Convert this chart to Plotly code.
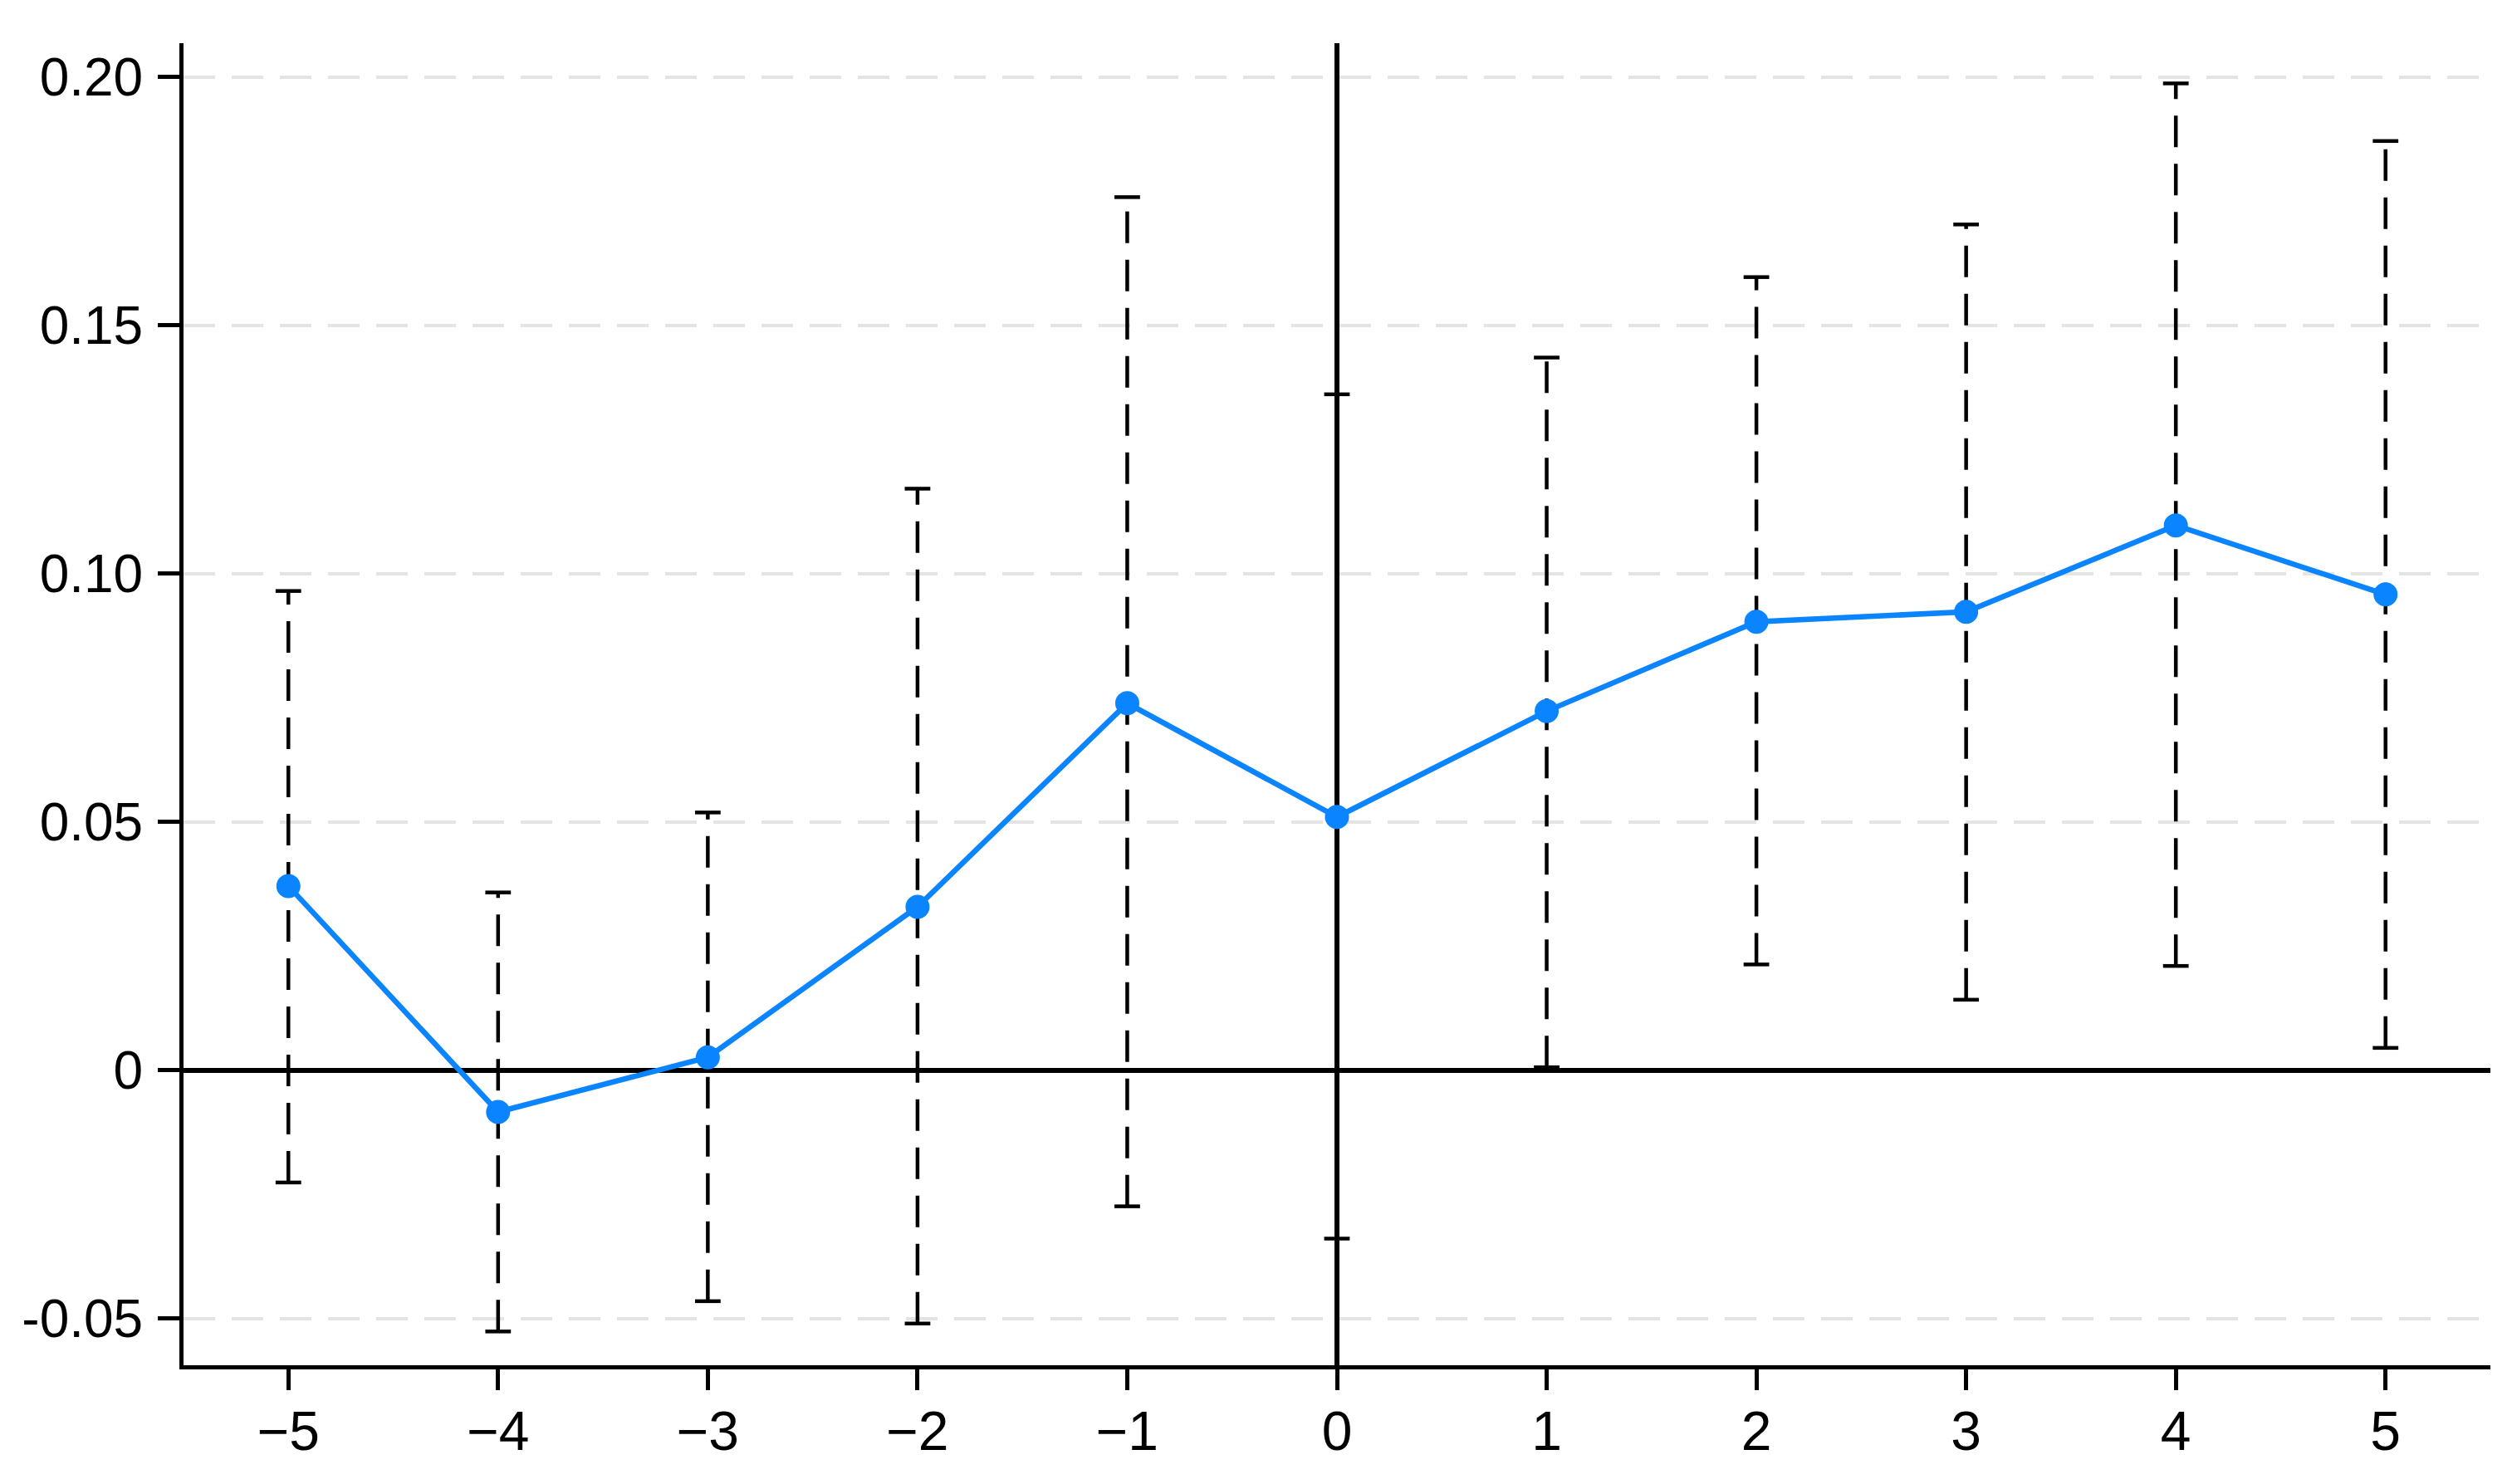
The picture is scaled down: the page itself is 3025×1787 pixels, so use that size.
import plotly.graph_objects as go

# Data
periods = [-5, -4, -3, -2, -1, 0, 1, 2, 3, 4, 5]
coef = [0.0371, -0.0084, 0.0026, 0.0329, 0.0739, 0.0510, 0.0723, 0.0903, 0.0923, 0.1097, 0.0958]
ci_low = [-0.0226, -0.0526, -0.0465, -0.0510, -0.0274, -0.0339, 0.0006, 0.0213, 0.0142, 0.0210, 0.0045]
ci_high = [0.0965, 0.0358, 0.0519, 0.1171, 0.1758, 0.1361, 0.1435, 0.1597, 0.1703, 0.1987, 0.1871]

x_tick_vals = [-5, -4, -3, -2, -1, 0, 1, 2, 3, 4, 5]
x_tick_text = ["\u22125", "\u22124", "\u22123", "\u22122", "\u22121", "0", "1", "2", "3", "4", "5"]
y_tick_vals = [-0.05, 0, 0.05, 0.10, 0.15, 0.20]
y_tick_text = ["-0.05", "0", "0.05", "0.10", "0.15", "0.20"]

BLUE = "#0a84ff"
FONT = "Liberation Sans, Arial, sans-serif"

# Build dashed error-bar segments from the data
seg_x, seg_y = [], []
for x, lo, hi in zip(periods, ci_low, ci_high):
    seg_x += [x, x, None]
    seg_y += [lo, hi, None]

fig = go.Figure()

fig.add_trace(go.Scatter(
    x=seg_x, y=seg_y, mode="lines",
    line=dict(color="black", width=4.5, dash="38px,20px"),
    hoverinfo="skip", showlegend=False,
))

# Caps
fig.add_trace(go.Scatter(
    x=periods + periods, y=ci_low + ci_high, mode="markers",
    marker=dict(symbol="line-ew", size=22, line=dict(color="black", width=4.5)),
    hoverinfo="skip", showlegend=False,
))

# Point estimates
fig.add_trace(go.Scatter(
    x=periods, y=coef, mode="lines+markers",
    line=dict(color=BLUE, width=6.5),
    marker=dict(color=BLUE, size=29),
    showlegend=False,
))

fig.update_layout(
    width=3025, height=1787,
    margin=dict(l=213, r=34, t=44, b=151, autoexpand=False),
    paper_bgcolor="white", plot_bgcolor="white",
    font=dict(family=FONT, size=66, color="black"),
)

fig.update_xaxes(
    range=[-5.5, 5.5],
    tickvals=x_tick_vals, ticktext=x_tick_text,
    showgrid=False, automargin=False,
    zeroline=True, zerolinecolor="black", zerolinewidth=5.5,
    showline=True, linecolor="black", linewidth=5,
    ticks="outside", ticklen=25, tickwidth=5, tickcolor="black",
    ticklabelstandoff=-7,
)

fig.update_yaxes(
    range=[-0.0594, 0.2068],
    tickvals=y_tick_vals, ticktext=y_tick_text,
    tickfont=dict(size=64),
    showgrid=True, gridcolor="#e4e4e4", gridwidth=4, griddash="38px,20px",
    automargin=False,
    zeroline=True, zerolinecolor="black", zerolinewidth=5.5,
    showline=True, linecolor="black", linewidth=5,
    ticks="outside", ticklen=26, tickwidth=5, tickcolor="black",
    ticklabelstandoff=5,
)

fig.write_html("out.html")
